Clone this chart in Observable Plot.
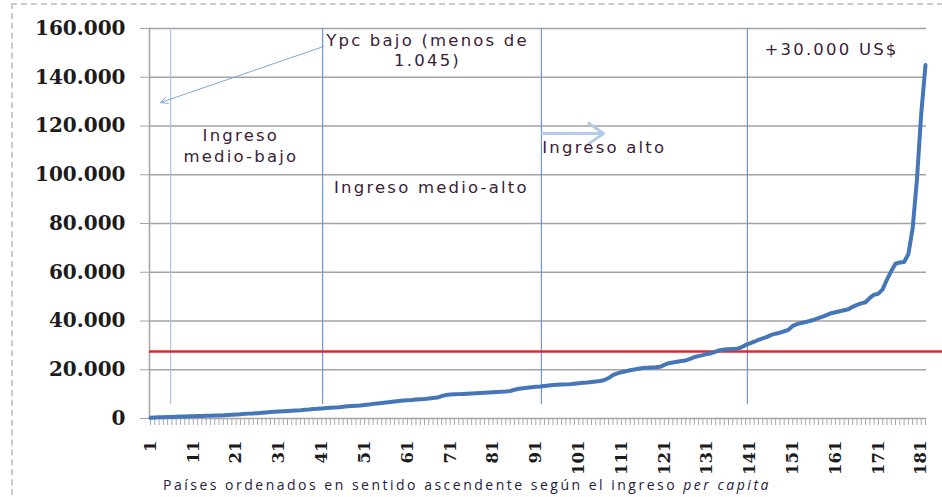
<!DOCTYPE html>
<html>
<head>
<meta charset="utf-8">
<script src="https://cdn.jsdelivr.net/npm/d3@7"></script>
<script src="https://cdn.jsdelivr.net/npm/@observablehq/plot@0.6"></script>
<style>
  html, body { margin: 0; padding: 0; background: #fff; }
  #wrap { position: relative; width: 942px; height: 497px; overflow: hidden; }
  #border { position: absolute; left: 11px; top: 3px; width: 940px; height: 500px;
            border-left: 2px dashed #cacaca; border-top: 2px dashed #cacaca; }
  #chart { position: absolute; left: 0; top: 0; }
  #caption { position: absolute; left: 163px; top: 477px; font-family: "Open Sans", sans-serif;
             font-size: 14px; letter-spacing: 2.5px; color: #1e2040; white-space: nowrap; line-height: 16px; }
</style>
</head>
<body>
<div id="wrap">
  <div id="border"></div>
  <div id="chart"></div>
  <div id="caption">Países ordenados en sentido ascendente según el ingreso <i>per capita</i></div>
</div>
<script>
// Ingreso per cápita (US$) de 182 países, ordenados de menor a mayor
const incomes = [
  300, 400, 500, 550, 600, 650, 750, 800, 850, 900,
  950, 1000, 1050, 1100, 1150, 1200, 1250, 1300, 1400, 1500,
  1600, 1700, 1900, 2000, 2100, 2200, 2350, 2500, 2650, 2800,
  2900, 3000, 3100, 3200, 3300, 3400, 3550, 3700, 3900, 4000,
  4150, 4300, 4400, 4500, 4600, 4800, 5000, 5100, 5200, 5300,
  5500, 5700, 6000, 6200, 6400, 6600, 6800, 7000, 7200, 7400,
  7500, 7600, 7800, 7900, 8000, 8200, 8400, 8600, 9200, 9600,
  9800, 9900, 10000, 10100, 10200, 10300, 10400, 10500, 10600, 10700,
  10800, 10900, 11000, 11100, 11300, 11800, 12200, 12400, 12600, 12800,
  13000, 13100, 13300, 13500, 13700, 13800, 13900, 14000, 14100, 14300,
  14500, 14700, 14800, 15000, 15200, 15400, 15800, 16600, 17800, 18500,
  19000, 19400, 19800, 20100, 20400, 20700, 20800, 20900, 21000, 21200,
  22000, 22700, 23000, 23300, 23600, 23800, 24500, 25200, 25600, 26000,
  26500, 26800, 27400, 28000, 28300, 28400, 28500, 28600, 29200, 30200,
  30800, 31500, 32300, 32900, 33500, 34300, 34800, 35200, 35800, 36400,
  38000, 38700, 39200, 39600, 40000, 40600, 41200, 41800, 42500, 43200,
  43600, 44000, 44400, 44800, 45800, 46600, 47200, 47700, 49500, 50800,
  51200, 53000, 57000, 60500, 63500, 64000, 64200, 67500, 78000, 98000,
  125000, 145000
];
const xTickLabels = [1, 11, 21, 31, 41, 51, 61, 71, 81, 91, 101, 111, 121, 131, 141, 151, 161, 171, 181];
const yTicks = [0, 20000, 40000, 60000, 80000, 100000, 120000, 140000, 160000];
const threshold = [27500];               // línea roja
const groupBreaks = [5.7, 41.2, 92.3, 140.4]; // divisiones entre grupos de ingreso
const breakColors = ["#a9c6e8", "#6f95c9", "#6f95c9", "#6f95c9"];

// anotaciones (en coordenadas de datos)
const notesMiddle = [
  {x: 65.7, y: 155100, text: "Ypc bajo (menos de"},
  {x: 65.7, y: 146900, text: "1.045)"},
  {x: 22.1, y: 116100, text: "Ingreso"},
  {x: 22.1, y: 107500, text: "medio-bajo"},
  {x: 66.6, y: 94800, text: "Ingreso medio-alto"}
];
const notesStart = [
  {x: 92.5, y: 111200, text: "Ingreso alto"},
  {x: 144.4, y: 151400, text: "+30.000 US$"}
];
const arrowYpc = [{x1: 41.4, y1: 152600, x2: 3.3, y2: 129600}];
const arrowAlto = [{x1: 92.5, y1: 116900, x2: 106.8, y2: 116900}];

const fmt = d => d3.format(",")(d).replace(/,/g, ".");
const ranks = incomes.map((d, i) => ({rank: i + 1, value: d}));

const W = 942, H = 476;
const plot = Plot.plot({
  width: W, height: H,
  marginLeft: 149, marginRight: 16, marginTop: 28, marginBottom: 58,
  x: {domain: [1, 182], range: [150, 925]},
  y: {domain: [0, 160000], range: [418, 28]},
  style: {background: "transparent"},
  marks: [
    Plot.gridY(yTicks, {stroke: "#a3a3a3", strokeOpacity: 1, strokeWidth: 1.5}),
    Plot.axisY(yTicks, {tickSize: 9, tickPadding: 15, tickFormat: fmt, stroke: "#a3a3a3",
      fontFamily: "DejaVu Serif", fontWeight: "bold", fontSize: 20, fill: "#1c1c1c", label: null}),
    Plot.frame({anchor: "left", stroke: "#a3a3a3", strokeWidth: 1.5}),
    Plot.axisX(d3.range(1, 183), {tickSize: 7, tickFormat: () => "", stroke: "#a8a8a8", label: null}),
    Plot.text(xTickLabels, {x: d => d, y: 0, text: d => String(d), rotate: -90, textAnchor: "end",
      dy: 22, fontFamily: "DejaVu Serif", fontWeight: "bold", fontSize: 16.5, fill: "#1c1c1c"}),
    Plot.ruleX(groupBreaks, {x: d => d, y1: 5700, y2: 160000, stroke: (d, i) => breakColors[i], strokeWidth: 1.2}),
    Plot.ruleY(threshold, {y: d => d, stroke: "#e8262a", strokeWidth: 2.5, insetRight: -16}),
    Plot.line(ranks, {x: "rank", y: "value", stroke: "#4576b8", strokeWidth: 4, strokeLinejoin: "round"}),
    Plot.arrow(arrowYpc, {x1: "x1", y1: "y1", x2: "x2", y2: "y2", bend: 0, stroke: "#7ea6d8",
      strokeWidth: 1, headLength: 12, headAngle: 50}),
    Plot.arrow(arrowAlto, {x1: "x1", y1: "y1", x2: "x2", y2: "y2", bend: 0, stroke: "#b3cbe9",
      strokeWidth: 3, headLength: 9, headAngle: 70}),
    Plot.text(notesMiddle, {x: "x", y: "y", text: "text", textAnchor: "middle", fontFamily: "DejaVu Sans",
      fontSize: 16.5, fill: "#3b2137"}),
    Plot.text(notesStart, {x: "x", y: "y", text: "text", textAnchor: "start", fontFamily: "DejaVu Sans",
      fontSize: 16.5, fill: "#3b2137"})
  ]
});
d3.select(plot).selectAll("g[font-family='DejaVu Sans'] text").style("letter-spacing", "2.2px");
document.getElementById("chart").appendChild(plot);
</script>
</body>
</html>
